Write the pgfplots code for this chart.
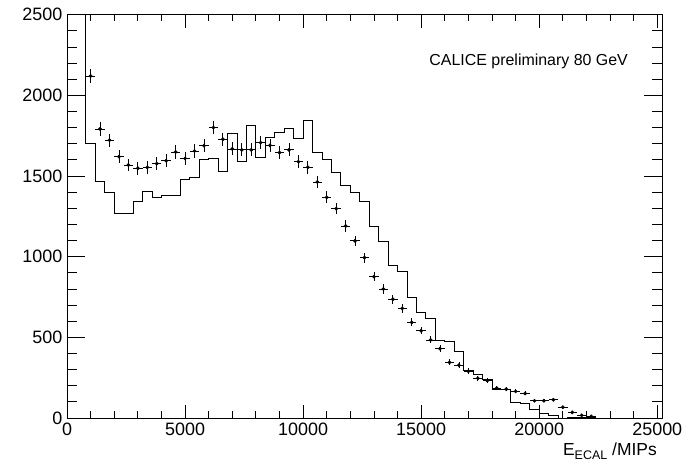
\documentclass[border=0pt]{standalone}
\usepackage{pgfplots}
\pgfplotsset{compat=1.18}
\usepackage{pgfplotstable}
\usepackage{fontspec}
\setmainfont{Liberation Sans}

\pgfplotstableread{
x y
0 3000
400 3000
800 1703
1200 1465
1600 1397
2000 1269
2400 1269
2800 1343
3200 1405
3600 1368
4000 1382
4400 1382
4800 1482
5200 1490
5600 1604
6000 1610
6400 1531
6800 1763
7200 1593
7600 1816
8000 1616
8400 1740
8800 1769
9200 1794
9600 1734
10000 1846
10400 1647
10800 1600
11200 1525
11600 1441
12000 1396
12400 1345
12800 1185
13200 1097
13600 946
14000 906
14400 746
14800 655
15200 618
15600 484
16000 475
16400 415
16800 293
17200 273
17600 242
18000 175
18400 175
18800 97
19200 91
19600 55
20000 30
20400 19
20800 0
21200 6
21600 6
22000 6
22400 0
}\histtable

\pgfplotstableread{
x y ey
1000 2120 46.0
1400 1792 42.3
1800 1722 41.5
2200 1620 40.2
2600 1568 39.6
3000 1548 39.3
3400 1554 39.4
3800 1577 39.7
4200 1595 39.9
4600 1649 40.6
5000 1609 40.1
5400 1655 40.7
5800 1688 41.1
6200 1800 42.4
6600 1728 41.6
7000 1668 40.8
7400 1662 40.8
7800 1662 40.8
8200 1707 41.3
8600 1690 41.1
9000 1645 40.6
9400 1662 40.8
9800 1589 39.9
10200 1554 39.4
10600 1463 38.2
11000 1368 37.0
11400 1298 36.0
11800 1190 34.5
12200 1098 33.1
12600 994 31.5
13000 876 29.6
13400 800 28.3
13800 736 27.1
14200 680 26.1
14600 593 24.4
15000 541 23.3
15400 484 22.0
15800 430 20.7
16200 345 18.6
16600 327 18.1
17000 290 17.0
17400 246 15.7
17800 231 15.2
18200 185 13.6
18600 179 13.4
19000 165 12.8
19400 152 12.3
19800 107 10.3
20200 107 10.3
20600 113 10.6
21000 67 8.2
21400 35 5.9
21800 17 4.1
22200 10 3.2
}\datatable

\begin{document}
\begin{tikzpicture}
\begin{axis}[
  scale only axis,
  width=595bp, height=403.3bp,
  xmin=0, xmax=25200, ymin=0, ymax=2500,
  xtick={0,5000,10000,15000,20000,25000},
  ytick={0,500,1000,1500,2000,2500},
  minor x tick num=4, minor y tick num=4,
  tick align=inside, tick pos=both,
  scaled ticks=false,
  /pgf/number format/set thousands separator={},
  /pgf/number format/assume math mode=true,
  axis line style={line width=0.8bp, black},
  every tick/.style={black, line width=0.8bp},
  xtick style={/pgfplots/major tick length=13bp, /pgfplots/minor tick length=6.5bp},
  ytick style={/pgfplots/major tick length=18bp, /pgfplots/minor tick length=10bp},
  xticklabel style={font=\fontsize{18}{18}\selectfont, inner sep=0pt, anchor=north, yshift=-5bp},
  yticklabel style={font=\fontsize{18}{18}\selectfont, inner sep=0pt, anchor=east, xshift=-4.5bp},
  xlabel={E\raisebox{-4bp}{\fontsize{12.5}{12}\selectfont ECAL}\hspace{5bp}/MIPs},
  xlabel style={font=\fontsize{17.5}{18}\selectfont, at={(rel axis cs:1,0)}, anchor=base east, inner sep=0pt, xshift=-5bp, yshift=-37bp},
]
\coordinate (sw) at (rel axis cs:0,0);
\addplot[const plot mark left, black, line width=0.8bp] table[x=x, y=y] {\histtable};
\addplot[only marks, mark=*, mark size=1.7bp, black,
  error bars/.cd, x dir=both, x fixed=200, y dir=both, y explicit,
  error bar style={line width=0.8bp, black}, error mark=none]
  table[x=x, y=y, y error=ey] {\datatable};
\node[anchor=base east, inner sep=0pt, font=\fontsize{16}{18}\selectfont] at (rel axis cs:0.943,0.875) {CALICE preliminary 80 GeV};
\end{axis}
\pgfresetboundingbox
\useasboundingbox (sw) ++(-67bp,-44bp) rectangle ++(688bp,462bp);
\end{tikzpicture}
\end{document}
